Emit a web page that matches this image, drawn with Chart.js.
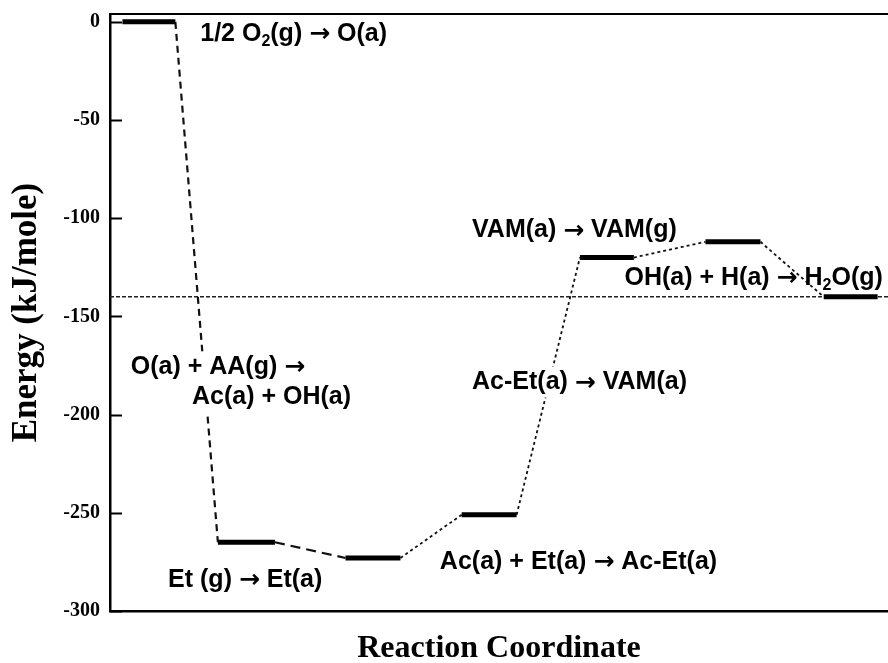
<!DOCTYPE html>
<html>
<head>
<meta charset="utf-8">
<script src="https://cdn.jsdelivr.net/npm/chart.js@4/dist/chart.umd.min.js"></script>
<style>
  body { margin: 0; background: #fff; overflow: hidden; }
  #wrap { width: 888px; height: 663px; }
</style>
</head>
<body>
<div id="wrap"><canvas id="energy" width="888" height="663"></canvas></div>
<script>
// energy levels along the reaction coordinate (kJ/mole)
const levelEnergy = [0, -265, -273, -251, -120, -112, -140];
const levelStart = [0.12, 1.04, 2.27, 3.39, 4.53, 5.74, 6.88];
const levelEnd = [0.63, 1.59, 2.80, 3.92, 5.05, 6.27, 7.40];
const referenceEnergy = -140;
const yTicks = [0, -50, -100, -150, -200, -250, -300];

// reaction steps, "_2" = subscript 2
const reactionText = [
    '1/2 O_2(g) → O(a)',
    'O(a) + AA(g) →',
    'Ac(a) + OH(a)',
    'Et (g) → Et(a)',
    'Ac(a) + Et(a) → Ac-Et(a)',
    'Ac-Et(a) → VAM(a)',
    'VAM(a) → VAM(g)',
    'OH(a) + H(a) → H_2O(g)'
];

// where each step label sits (left edge, middle), in axis units
const notePlace = [
    {x: 0.87, y: -6.0, mask: false},
    {x: 0.20, y: -175.7, mask: true},
    {x: 0.79, y: -191.0, mask: true},
    {x: 0.56, y: -284.2, mask: false},
    {x: 3.18, y: -275.0, mask: false},
    {x: 3.49, y: -183.4, mask: true},
    {x: 3.49, y: -106.0, mask: true},
    {x: 4.96, y: -130.4, mask: false}
];

const connectorDash = [[7, 5], [10, 6], [3, 3], [3, 3], [3, 3], [3, 3]];

const datasets = [];

levelEnergy.forEach(function(e, i){
    datasets.push({
        data: [{x: levelStart[i], y: e}, {x: levelEnd[i], y: e}],
        borderColor: '#000',
        borderWidth: 5,
        borderCapStyle: 'butt',
        pointRadius: 0
    });
    if (i < levelEnergy.length - 1) {
        datasets.push({
            data: [{x: levelEnd[i], y: e}, {x: levelStart[i + 1], y: levelEnergy[i + 1]}],
            borderColor: '#111',
            borderWidth: i < 2 ? 2.2 : 1.8,
            borderDash: connectorDash[i],
            pointRadius: 0
        });
    }
});

// dotted reference line across the whole plot
datasets.push({
    data: [{x: 0, y: referenceEnergy}, {x: 7.5, y: referenceEnergy}],
    borderColor: '#222',
    borderWidth: 1.5,
    borderDash: [4, 2],
    pointRadius: 0
});

// split into plain / subscript / arrow pieces
function splitRuns(str){
    const out = [];
    str.split(/_(\d)/).forEach(function(t, i){
        if (i % 2 === 1) { out.push({t: t, kind: 'sub'}); return; }
        t.split('→').forEach(function(s, j){
            if (j > 0) out.push({t: '→', kind: 'arrow'});
            if (s) out.push({t: s, kind: 'main'});
        });
    });
    return out;
}

const stepLabels = {
    id: 'stepLabels',
    afterDatasetsDraw(chart){
        const ctx = chart.ctx;
        const xs = chart.scales.x, ys = chart.scales.y;
        const size = 25;
        const fonts = {
            main: 'bold ' + size + 'px "Liberation Sans", Arial, sans-serif',
            sub: 'bold ' + Math.round(size * 0.65) + 'px "Liberation Sans", Arial, sans-serif',
            arrow: 'bold ' + size + 'px "DejaVu Sans", sans-serif'
        };
        ctx.save();
        ctx.textBaseline = 'middle';
        ctx.textAlign = 'left';
        reactionText.forEach(function(txt, i){
            const p = notePlace[i];
            const runs = splitRuns(txt);
            let x = xs.getPixelForValue(p.x);
            const y = ys.getPixelForValue(p.y);
            let w = 0;
            runs.forEach(function(r){
                ctx.font = fonts[r.kind];
                r.w = ctx.measureText(r.t).width;
                w += r.w;
            });
            if (p.mask) {
                ctx.fillStyle = '#fff';
                ctx.fillRect(x - 3, y - size * 0.62, w + 8, size * 1.24);
            }
            ctx.fillStyle = '#000';
            runs.forEach(function(r){
                ctx.font = fonts[r.kind];
                let dy = 0;
                if (r.kind === 'sub') dy = size * 0.3;
                if (r.kind === 'arrow') dy = size * 0.04;
                ctx.fillText(r.t, x, y + dy);
                x += r.w;
            });
        });
        ctx.restore();
    }
};

// tick marks point into the plot
const innerTicks = {
    id: 'innerTicks',
    afterDraw(chart){
        const ctx = chart.ctx;
        const ys = chart.scales.y;
        const left = chart.chartArea.left;
        ctx.save();
        ctx.strokeStyle = '#000';
        ctx.lineWidth = 2;
        ys.ticks.forEach(function(t){
            const py = Math.round(ys.getPixelForValue(t.value)) + 0.5;
            ctx.beginPath();
            ctx.moveTo(left, py);
            ctx.lineTo(left + 12, py);
            ctx.stroke();
        });
        ctx.restore();
    }
};

Chart.defaults.color = '#000';

new Chart(document.getElementById('energy').getContext('2d'), {
    type: 'line',
    data: { datasets: datasets },
    plugins: [stepLabels, innerTicks],
    options: {
        responsive: false,
        animation: false,
        layout: { padding: { top: 14, right: 0, left: 0, bottom: 0 } },
        plugins: {
            legend: { display: false },
            tooltip: { enabled: false }
        },
        scales: {
            x: {
                type: 'linear',
                min: 0,
                max: 7.5,
                grid: { display: false },
                border: { display: true, color: '#000', width: 2.5 },
                ticks: { display: false },
                title: {
                    display: true,
                    text: 'Reaction Coordinate',
                    font: { family: '"Liberation Serif", "Times New Roman", serif', size: 32, weight: 'bold', lineHeight: 1 },
                    padding: { top: 0, bottom: -2 }
                },
                afterFit(scale){ scale.height = 52; scale.paddingLeft = 0; scale.paddingRight = 0; }
            },
            xTop: {
                type: 'linear',
                axis: 'x',
                position: 'top',
                min: 0,
                max: 7.5,
                grid: { display: false },
                border: { display: true, color: '#000', width: 2 },
                ticks: { display: false },
                afterFit(scale){ scale.height = 0; }
            },
            y: {
                type: 'linear',
                min: -300,
                max: 4,
                grid: { display: false, drawTicks: false },
                border: { display: true, color: '#000', width: 2.5 },
                afterBuildTicks(scale){
                    scale.ticks = yTicks.map(function(v){ return {value: v}; });
                },
                ticks: {
                    padding: 10,
                    font: { family: '"Liberation Serif", "Times New Roman", serif', size: 20, weight: 'bold' }
                },
                title: {
                    display: true,
                    text: 'Energy (kJ/mole)',
                    font: { family: '"Liberation Serif", "Times New Roman", serif', size: 35, weight: 'bold', lineHeight: 1 },
                    padding: { top: 9, bottom: 0 }
                },
                afterFit(scale){ scale.width = 110; scale.paddingTop = 0; scale.paddingBottom = 0; }
            }
        }
    }
});
</script>
</body>
</html>
